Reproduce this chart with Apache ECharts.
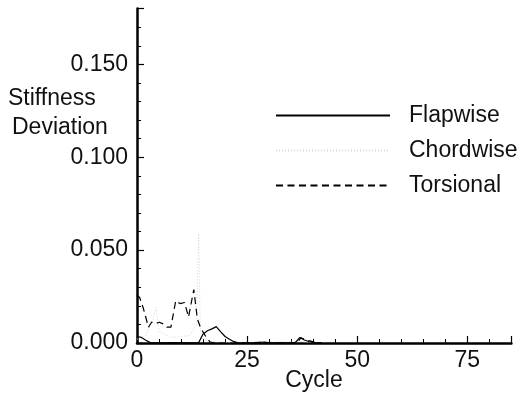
<!DOCTYPE html>
<html>
<head>
<meta charset="utf-8">
<script src="https://cdn.jsdelivr.net/npm/echarts@6/dist/echarts.min.js"></script>
<style>
  html, body { margin: 0; padding: 0; background: #fff; }
  #chart { width: 522px; height: 394px; }
</style>
</head>
<body>
<div id="chart"></div>
<script>
// Stiffness deviation per load cycle, three stiffness components
const flapCycles = [0, 1, 2, 3, 5, 8, 11, 14, 15, 16, 17, 18, 19, 20, 21, 22, 23, 27, 28, 29, 30, 35, 36, 37, 38, 39, 40, 42];
const flapValues = [0.0035, 0.003, 0.0015, 0.0002, 0.0001, 0.0002, 0.0001, 0.0002, 0.0048, 0.0066, 0.0076, 0.0088, 0.006, 0.0035, 0.002, 0.0007, 0.0001, 0.0001, 0.0004, 0.0005, 0.0001, 0.0001, 0.0004, 0.003, 0.0016, 0.0008, 0.0002, 0];

const chordCycles = [0, 2, 3.5, 4.3, 5, 8, 12, 13.5, 14.0, 14.4, 16, 20, 25, 37, 40];
const chordValues = [0.002, 0.004, 0.012, 0.019, 0.006, 0.003, 0.004, 0.01, 0.059, 0.003, 0.001, 0.0005, 0.0003, 0.001, 0];

const torsCycles = [0, 0.6, 1.4, 2.6, 3.3, 4.3, 5.1, 5.9, 6.8, 7.7, 8.8, 9.8, 10.8, 11.7, 12.9, 13.7, 14.5, 15.5, 16.6, 18, 22, 28, 30, 35, 36.5, 37.2, 38.5, 39.5, 40.5, 42];
const torsValues = [0.0258, 0.0245, 0.019, 0.0085, 0.0112, 0.0105, 0.0112, 0.0103, 0.0085, 0.0085, 0.0228, 0.0212, 0.0218, 0.014, 0.0288, 0.013, 0.0078, 0.004, 0.0005, 0, 0, 0.0003, 0, 0, 0.0005, 0.0028, 0.0015, 0.001, 0.0002, 0];

const seriesNames = ['Flapwise', 'Chordwise', 'Torsional'];
const xMajorTicks = [0, 25, 50, 75];
const yMajorTicks = [0, 0.05, 0.1, 0.15];

const FONT = 'Liberation Sans, Arial, Helvetica, sans-serif';
const FONT_SIZE = 23;
const pairs = (xs, ys) => xs.map((x, i) => [x, ys[i]]);

// plain text label placed at a fixed point
const label = (text, x, y, align) => ({
  type: 'text',
  x: x,
  y: y,
  style: {
    text: text,
    font: FONT_SIZE + 'px ' + FONT,
    fill: '#111',
    align: align,
    verticalAlign: 'middle'
  }
});

const chart = echarts.init(document.getElementById('chart'), null, { renderer: 'canvas' });

chart.setOption({
  animation: false,
  backgroundColor: '#ffffff',
  grid: { left: 137, right: 10.6, top: 8.6, bottom: 51, containLabel: false, outerBoundsMode: 'none' },
  legend: {
    orient: 'vertical',
    left: 275,
    top: 100,
    padding: 0,
    itemWidth: 114,
    itemHeight: 14,
    itemGap: 4,
    selectedMode: false,
    data: seriesNames,
    itemStyle: { opacity: 0 },
    textStyle: {
      fontFamily: FONT, fontSize: FONT_SIZE, lineHeight: 23, color: '#111',
      padding: [8, 0, 0, 14]
    }
  },
  xAxis: {
    type: 'value',
    min: 0,
    max: 85,
    interval: 25,
    axisLine: { onZero: false, lineStyle: { color: '#000', width: 2.5 } },
    axisTick: { inside: true, length: 7, lineStyle: { color: '#000', width: 1.2 } },
    minorTick: { show: true, splitNumber: 5, length: 4, lineStyle: { color: '#000', width: 1 } },
    splitLine: { show: false },
    axisLabel: {
      margin: 6,
      fontFamily: FONT, fontSize: FONT_SIZE, color: '#111',
      formatter: v => (xMajorTicks.indexOf(v) >= 0 ? String(v) : '')
    }
  },
  yAxis: {
    type: 'value',
    min: 0,
    max: 0.18,
    interval: 0.05,
    axisLine: { onZero: false, lineStyle: { color: '#000', width: 2.5 } },
    axisTick: { inside: true, length: 7, lineStyle: { color: '#000', width: 1.2 } },
    minorTick: { show: true, splitNumber: 5, length: 4, lineStyle: { color: '#000', width: 1 } },
    splitLine: { show: false },
    axisLabel: {
      margin: 9,
      fontFamily: FONT, fontSize: FONT_SIZE, color: '#111',
      padding: [6, 0, 0, 0],
      formatter: v => (yMajorTicks.some(t => Math.abs(t - v) < 1e-9) ? v.toFixed(3) : '')
    }
  },
  graphic: [
    label('Stiffness', 8, 99, 'left'),
    label('Deviation', 12, 128, 'left'),
    label('Cycle', 314, 381, 'center')
  ],
  series: [
    {
      name: seriesNames[0],
      type: 'line',
      symbol: 'none',
      data: pairs(flapCycles, flapValues),
      lineStyle: { color: '#000', width: 1.2, type: 'solid' },
      itemStyle: { color: '#000' },
      z: 3
    },
    {
      name: seriesNames[1],
      type: 'line',
      symbol: 'none',
      data: pairs(chordCycles, chordValues),
      lineStyle: { color: '#d6d6d6', width: 1, type: [1, 2] },
      itemStyle: { color: '#d6d6d6' },
      z: 2
    },
    {
      name: seriesNames[2],
      type: 'line',
      symbol: 'none',
      data: pairs(torsCycles, torsValues),
      lineStyle: { color: '#000', width: 1.2, type: [7, 4.5] },
      itemStyle: { color: '#000' },
      z: 4
    }
  ]
});
</script>
</body>
</html>
